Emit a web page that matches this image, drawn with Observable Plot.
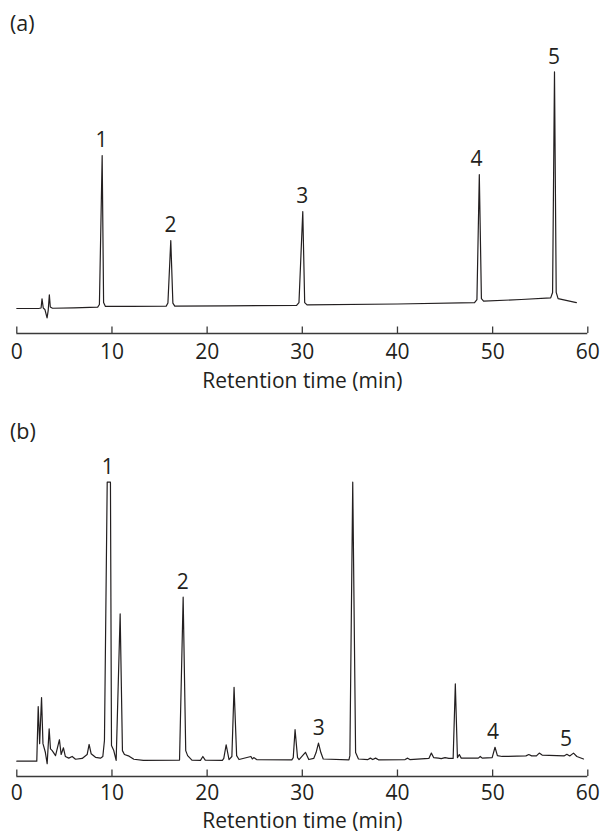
<!DOCTYPE html>
<html>
<head>
<meta charset="utf-8">
<script src="https://cdn.jsdelivr.net/npm/d3@7"></script>
<script src="https://cdn.jsdelivr.net/npm/@observablehq/plot@0.6"></script>
<style>
  html, body { margin: 0; padding: 0; background: #fff; }
  body { width: 601px; height: 833px; overflow: hidden; font-family: "Open Sans", sans-serif; color: #231f20; }
  .panel { position: relative; width: 601px; }
  .panel svg { display: block; }
  .tag { position: absolute; left: 10px; font-size: 21.5px; line-height: 22px; color: #231f20; }
</style>
</head>
<body>
<div class="panel" id="pa"><div class="tag" style="top:12px">(a)</div></div>
<div class="panel" id="pb"><div class="tag" style="top:25px">(b)</div></div>
<script>
// ---- data ----
const xTicks = [0, 10, 20, 30, 40, 50, 60];
const axisTitle = "Retention time (min)";

// Panel (a): standard mixture chromatogram (time in min, relative signal)
const timeA = [0, 2.3, 2.55, 2.65, 2.78, 2.95, 3.18, 3.3, 3.42, 3.52, 3.75, 6, 8.5, 8.68, 8.97, 9.12, 9.3, 12,
  15.7, 15.88, 16.18, 16.4, 16.6, 22, 29.4, 29.65, 30.05, 30.25, 30.5, 40, 48.1, 48.35, 48.6, 48.82, 49.05,
  53, 56.1, 56.3, 56.5, 56.68, 56.88, 58.8];
const signalA = [-0.3, -0.3, -0.1, 3.8, -0.1, -0.7, -4.3, -1.1, 5.5, 0.3, -0.2, 0.0, 0.3, 1.4, 64.5, 2.2, 0.6, 0.6,
  0.7, 2.0, 28.5, 2.0, 0.7, 0.8, 1.0, 2.2, 40.8, 2.2, 1.2, 1.6, 2.2, 3.5, 56.4, 3.9, 2.8,
  3.5, 4.2, 6.5, 100, 6.5, 3.9, 2.2];
const peakNamesA = ["1", "2", "3", "4", "5"];
const peakTimeA = [8.9, 16.15, 30.0, 48.3, 56.45];
const peakSignalA = [64.5, 28.5, 40.8, 56.4, 100];
const yDomainA = [-10.9, 100];

// Panel (b): sample chromatogram
const timeB = [0, 2.1, 2.25, 2.4, 2.6, 2.75, 3.0, 3.19, 3.4, 3.54, 3.72, 4.07, 4.48, 4.66, 4.9, 5.1, 5.46, 5.82,
  6.17, 6.87, 7.39, 7.6, 7.81, 8.27, 8.79, 9.04, 9.21, 9.5, 9.84, 9.95, 10.19, 10.44, 10.86, 11.1, 11.31, 11.8,
  12.3, 13.3, 17.1, 17.48, 17.75, 17.95, 18.4, 19.3, 19.55, 19.8, 21.6, 21.75, 22.0, 22.3, 22.6, 22.83, 23.1, 23.35,
  24.6, 24.75, 24.9, 25.2, 28.9, 29.05, 29.24, 29.5, 29.66, 30.33, 30.68, 31.2, 31.45, 31.7, 31.95, 32.2,
  34.9, 35.0, 35.3, 35.6, 35.9, 36.9, 37.15, 37.4, 37.7, 38, 40.8, 41.07, 41.3, 43.3, 43.56, 43.8, 44.3, 44.6,
  45.0, 45.4, 45.85, 46.08, 46.3, 46.5, 46.7, 48.5, 48.7, 48.9, 49.95, 50.25, 50.5, 51, 53.5, 53.8, 54.1, 54.6,
  54.9, 55.2, 57.5, 57.8, 58.1, 58.5, 58.85, 59.55];
const signalB = [0, 0, 19.6, 6.3, 22.8, 6.3, 3.2, -0.9, 11.6, 4.4, 3.8, 2.0, 7.7, 2.4, 4.8, 1.7, 1.1, 1.7,
  0.7, 1.0, 2.4, 6.0, 2.7, 1.4, 1.1, 1.7, 7.4, 100, 100, 5.6, 3.8, 0.3, 52.8, 3.8, 2.4, 1.8,
  0.7, 0.3, 0.4, 58.8, 3.8, 2.0, 0.4, 0.3, 1.7, 0.4, 0.3, 1.0, 5.9, 0.6, 1.7, 26.5, 2.0, 0.6,
  1.7, 0.8, 1.3, 0.6, 0.5, 1.3, 11.3, 1.3, 0.6, 3.2, 0.6, 1.0, 3.1, 6.5, 3.1, 0.8,
  0.5, 2.0, 100, 3.1, 0.8, 0.6, 1.1, 0.6, 1.1, 0.5, 0.6, 1.1, 0.6, 1.0, 2.9, 1.3, 1.1, 0.9,
  1.3, 1.0, 1.0, 27.7, 1.3, 2.4, 1.1, 1.1, 1.7, 1.1, 1.3, 5.0, 2.0, 1.7, 1.9, 2.4, 1.9, 1.9,
  2.9, 2.2, 1.9, 2.5, 1.9, 2.9, 1.7, 0.8];
const peakNamesB = ["1", "2", "3", "4", "5"];
const peakTimeB = [9.56, 17.45, 31.72, 50.04, 57.7];
const peakSignalB = [100, 58.8, 6.5, 5.0, 2.5];
const yDomainB = [-5.48, 100];

// ---- drawing ----
const ink = "#231f20";
function chromatogram({time, signal, names, ptime, psignal, yDomain, height, marginTop, marginBottom, tickPadding, titleOffset}) {
  const trace = time.map((t, i) => ({t, v: signal[i]}));
  const peaks = names.map((n, i) => ({n, t: ptime[i], v: psignal[i]}));
  return Plot.plot({
    width: 601,
    height,
    marginLeft: 16.3,
    marginRight: 13.7,
    marginTop,
    marginBottom,
    style: {fontFamily: "'Open Sans', sans-serif", fontSize: "21px", color: ink, background: "#fff"},
    x: {domain: [0, 60]},
    y: {domain: yDomain, axis: null},
    marks: [
      Plot.ruleY([yDomain[0]], {stroke: "#3a3a3a", strokeWidth: 1.5}),
      Plot.axisX(xTicks, {tickSize: -6.5, tickPadding, stroke: "#3a3a3a", strokeWidth: 1.3, fill: ink,
        fontSize: 21, label: null}),
      Plot.text([axisTitle], {frameAnchor: "bottom", lineAnchor: "middle", dy: titleOffset, fill: ink, fontSize: 21}),
      Plot.line(trace, {x: "t", y: "v", stroke: ink, strokeWidth: 1.2}),
      Plot.text(peaks, {x: "t", y: "v", text: "n", dy: -15, fill: ink, fontSize: 21})
    ]
  });
}

document.getElementById("pa").appendChild(chromatogram({
  time: timeA, signal: signalA, names: peakNamesA, ptime: peakTimeA, psignal: peakSignalA,
  yDomain: yDomainA, height: 395, marginTop: 71.3, marginBottom: 62, tickPadding: 17.5, titleOffset: 48
}));
document.getElementById("pb").appendChild(chromatogram({
  time: timeB, signal: signalB, names: peakNamesB, ptime: peakTimeB, psignal: peakSignalB,
  yDomain: yDomainB, height: 438, marginTop: 86.7, marginBottom: 57, tickPadding: 15, titleOffset: 45
}));
</script>
</body>
</html>
